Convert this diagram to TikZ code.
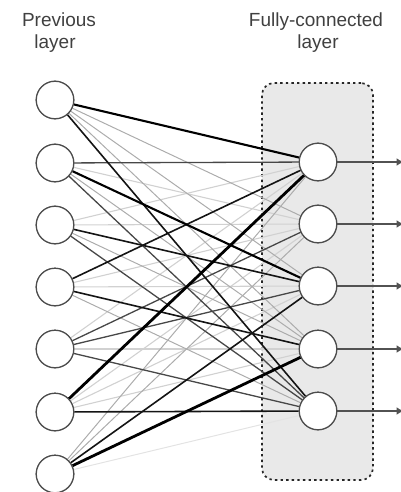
\documentclass[tikz,border=0pt]{standalone}
\usepackage{fontspec}
\setmainfont{Liberation Sans}
\usetikzlibrary{arrows.meta}
\begin{document}
\begin{tikzpicture}[x=1pt,y=-1pt,
  neuron/.style={circle,draw=black!70,line width=1.2pt,fill=white,minimum size=37.5pt,inner sep=0pt},
  fcbox/.style={draw=black!85,fill=gray!17,line width=1.7pt,rounded corners=12pt,dash pattern=on 2.4pt off 3.2pt,minimum width=111pt,minimum height=397pt,inner sep=0pt},
  title/.style={text=black!75,font=\fontsize{19}{22}\selectfont,anchor=base,inner sep=0pt},
  e0/.style={draw=gray!22,line width=1pt},
  e1/.style={draw=gray!36,line width=1.1pt},
  e2/.style={draw=gray!65,line width=1pt},
  e3/.style={draw=black!72,line width=1.3pt},
  e4/.style={draw=black!92,line width=1.6pt},
  e5/.style={draw=black,line width=2.1pt},
  e6/.style={draw=black,line width=2.8pt},
  outl/.style={draw=black!68,line width=1.3pt,-{Latex[length=7pt,width=8pt]}}
]
\useasboundingbox (0,0) rectangle (401,492);

% titles
\node[title] (t1a) at (59,27) {Previous};
\node[title] (t1b) at (55,49) {layer};
\node[title] (t2a) at (316,27) {Fully-connected};
\node[title] (t2b) at (318,49) {layer};

% box
\node[fcbox] (fc) at (317.5,281.5) {};

% neurons
\foreach \i/\y in {1/100,2/163,3/225,4/287,5/349,6/412,7/474}
  \node[neuron] (L\i) at (55,\y) {};
\foreach \j/\y in {1/162,2/224,3/286,4/349,5/411}
  \node[neuron] (R\j) at (318,\y) {};

% edges (light first, dark last)
\draw[e0] (L7) -- (R5);
\draw[e1] (L2) -- (R2);
\draw[e1] (L3) -- (R1);
\draw[e1] (L3) -- (R2);
\draw[e1] (L4) -- (R2);
\draw[e1] (L4) -- (R3);
\draw[e1] (L5) -- (R1);
\draw[e1] (L5) -- (R4);
\draw[e1] (L6) -- (R2);
\draw[e1] (L6) -- (R3);
\draw[e1] (L6) -- (R4);
\draw[e2] (L1) -- (R2);
\draw[e2] (L1) -- (R3);
\draw[e2] (L1) -- (R4);
\draw[e2] (L2) -- (R4);
\draw[e2] (L3) -- (R4);
\draw[e2] (L4) -- (R5);
\draw[e2] (L7) -- (R1);
\draw[e2] (L7) -- (R2);
\draw[e3] (L2) -- (R1);
\draw[e3] (L2) -- (R5);
\draw[e3] (L3) -- (R5);
\draw[e3] (L5) -- (R2);
\draw[e3] (L5) -- (R3);
\draw[e3] (L5) -- (R5);
\draw[e4] (L1) -- (R5);
\draw[e4] (L3) -- (R3);
\draw[e4] (L4) -- (R4);
\draw[e4] (L6) -- (R5);
\draw[e4] (L7) -- (R3);
\draw[e4] (L4) -- (R1);
\draw[e5] (L1) -- (R1);
\draw[e5] (L2) -- (R3);
\draw[e6] (L6) -- (R1);
\draw[e6] (L7) -- (R4);

% outputs
\foreach \j/\y in {1/162,2/224,3/286,4/349,5/411}{
  \coordinate (O\j) at (403.5,\y);
  \draw[outl] (R\j) -- (O\j);
}

% redraw neurons on top
\foreach \i in {1,...,7} \node[neuron] at (L\i) {};
\foreach \j in {1,...,5} \node[neuron] at (R\j) {};
\end{tikzpicture}
\end{document}
